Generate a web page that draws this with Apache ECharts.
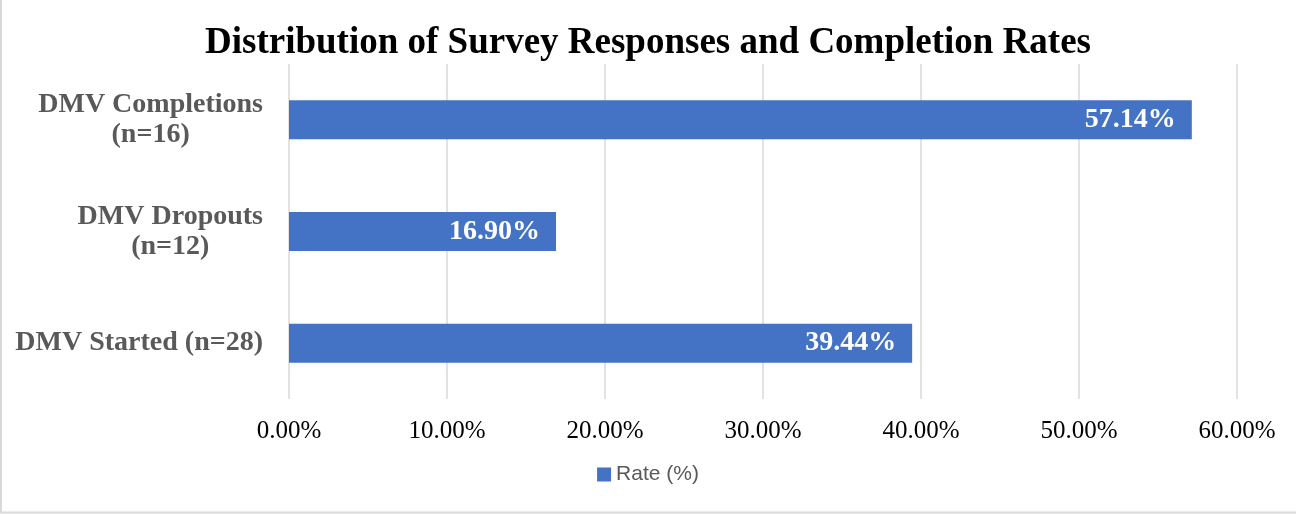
<!DOCTYPE html>
<html>
<head>
<meta charset="utf-8">
<script src="https://cdn.jsdelivr.net/npm/echarts@6/dist/echarts.min.js"></script>
<style>
html,body{margin:0;padding:0;background:#fff;}
#c{width:1296px;height:514px;}
</style>
</head>
<body>
<div id="c"></div>
<script>
const categories = ['DMV Started (n=28)', 'DMV Dropouts\n(n=12)', 'DMV Completions\n(n=16)'];
const rates = [39.44, 16.90, 57.14];
const seriesName = 'Rate (%)';
const titleText = 'Distribution of Survey Responses and Completion Rates';

const chart = echarts.init(document.getElementById('c'), null, {renderer: 'canvas'});
chart.setOption({
  backgroundColor: '#ffffff',
  animation: false,
  title: {
    text: titleText,
    left: 'center',
    top: 20,
    textStyle: {fontFamily: 'Liberation Serif', fontWeight: 'bold', fontSize: 37, color: '#000000'}
  },
  legend: {
    data: [seriesName],
    bottom: 24,
    left: 'center',
    icon: 'rect',
    itemWidth: 14,
    itemHeight: 14,
    itemGap: 6,
    textStyle: {fontFamily: 'Liberation Sans', fontSize: 21, color: '#595959'}
  },
  grid: {left: 289, right: 59, top: 64, bottom: 115, containLabel: false},
  xAxis: {
    type: 'value',
    min: 0, max: 60, interval: 10,
    axisLine: {show: false},
    axisTick: {show: false},
    splitLine: {show: true, lineStyle: {color: '#d9d9d9', width: 1.5}},
    axisLabel: {
      margin: 20,
      fontFamily: 'Liberation Serif', fontSize: 25, color: '#000000',
      formatter: v => v.toFixed(2) + '%'
    }
  },
  yAxis: {
    type: 'category',
    data: categories,
    axisLine: {show: false},
    axisTick: {show: false},
    splitLine: {show: false},
    axisLabel: {
      margin: 26,
      align: 'right',
      formatter: v => v.split('\n').map(s => '{c|' + s + '}').join('\n'),
      rich: {
        c: {align: 'center', fontFamily: 'Liberation Serif', fontWeight: 'bold', fontSize: 28, lineHeight: 30, color: '#595959'}
      },
      fontFamily: 'Liberation Serif', fontWeight: 'bold', fontSize: 28, lineHeight: 30, color: '#595959'
    }
  },
  series: [{
    name: seriesName,
    type: 'bar',
    data: rates,
    barWidth: 39,
    itemStyle: {color: '#4472C4'},
    label: {
      show: true,
      position: 'insideRight',
      distance: 16,
      formatter: p => p.value.toFixed(2) + '%',
      fontFamily: 'Liberation Serif', fontWeight: 'bold', fontSize: 28, color: '#ffffff'
    }
  }],
  graphic: [
    {type: 'line', shape: {x1: 1, y1: 0, x2: 1, y2: 513}, style: {stroke: '#d9d9d9', lineWidth: 2}, silent: true},
    {type: 'line', shape: {x1: 0, y1: 512.5, x2: 1296, y2: 512.5}, style: {stroke: '#d9d9d9', lineWidth: 2}, silent: true}
  ]
});
</script>
</body>
</html>
